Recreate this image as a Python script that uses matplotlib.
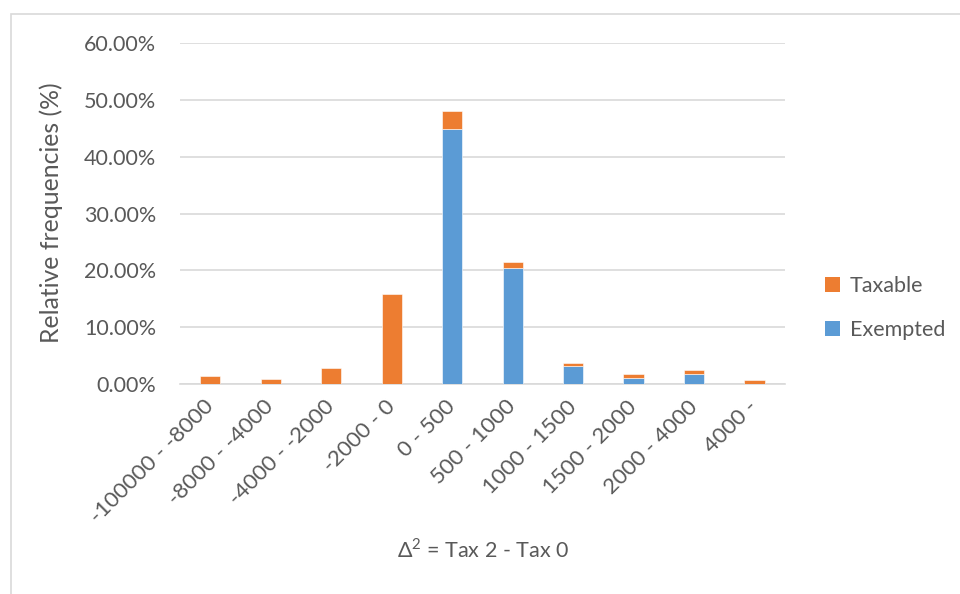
import matplotlib
matplotlib.use("Agg")
import matplotlib.pyplot as plt
from matplotlib.patches import Patch, Rectangle
from matplotlib.ticker import FuncFormatter
import numpy as np

plt.rcParams["font.family"] = ["Lato", "DejaVu Sans"]
plt.rcParams["mathtext.fontset"] = "custom"
plt.rcParams["mathtext.rm"] = "Lato"

# Relative frequencies (%) per class of Δ²
classes = ["-100000 - -8000", "-8000 - -4000", "-4000 - -2000", "-2000 - 0",
           "0 - 500", "500 - 1000", "1000 - 1500", "1500 - 2000",
           "2000 - 4000", "4000 -"]
exempted = [0.0, 0.0, 0.0, 0.0, 44.8, 20.4, 3.15, 1.0, 1.7, 0.0]
taxable = [1.43, 0.83, 2.9, 15.9, 3.3, 1.0, 0.55, 0.85, 0.7, 0.65]

ORANGE = "#ED7D31"
BLUE = "#5B9BD5"
TEXT = "#595959"
GRID = "#D9D9D9"

fig = plt.figure(figsize=(9.6, 5.94), dpi=100)
ax = fig.add_axes([0.1875, 0.3535, 0.630, 0.574])

x = np.arange(len(classes))
ax.bar(x, exempted, width=0.335, color=BLUE, edgecolor="white", linewidth=0.4, zorder=3)
ax.bar(x, taxable, width=0.335, bottom=exempted, color=ORANGE,
       edgecolor="white", linewidth=0.4, zorder=3)

ax.set_xlim(-0.5, len(classes) - 0.5)
ax.set_ylim(0, 60)
ax.set_yticks(np.arange(0, 61, 10))
ax.yaxis.set_major_formatter(FuncFormatter(lambda v, _: f"{v:.2f}%"))
ax.grid(axis="y", color=GRID, linewidth=1.2, zorder=0)
ax.set_axisbelow(True)

for side in ("top", "right", "left"):
    ax.spines[side].set_visible(False)
ax.spines["bottom"].set_color(GRID)
ax.spines["bottom"].set_linewidth(1.2)

ax.set_xticks(x)
ax.set_xticklabels(classes, rotation=45, ha="right", va="center",
                   rotation_mode="anchor", fontsize=16)
ax.tick_params(axis="both", length=0, colors=TEXT)
ax.tick_params(axis="y", pad=17, labelsize=15.5)
ax.tick_params(axis="x", pad=14)

ax.set_ylabel("Relative frequencies (%)", fontsize=17.8, color=TEXT)
ax.yaxis.set_label_coords(-0.193, 0.503)
fig.text(483 / 960, 1 - 550 / 594, r"Δ$^{2}$ = Tax 2 - Tax 0", fontsize=15.5,
         color=TEXT, ha="center", va="center")

handles = [Patch(facecolor=ORANGE, label="Taxable"),
           Patch(facecolor=BLUE, label="Exempted")]
fig.legend(handles=handles, loc="center left", bbox_to_anchor=(0.848, 1 - 308 / 594),
           frameon=False, fontsize=15.5, labelcolor=TEXT, handlelength=0.7,
           handleheight=0.7, handletextpad=0.45, labelspacing=1.15, borderpad=0)

fig.patches.append(Rectangle((11 / 960, -0.05), 1.1, 1 - 13.5 / 594 + 0.05,
                             transform=fig.transFigure, fill=False,
                             edgecolor=GRID, linewidth=1.2))

fig.savefig("out.png", dpi=100)
